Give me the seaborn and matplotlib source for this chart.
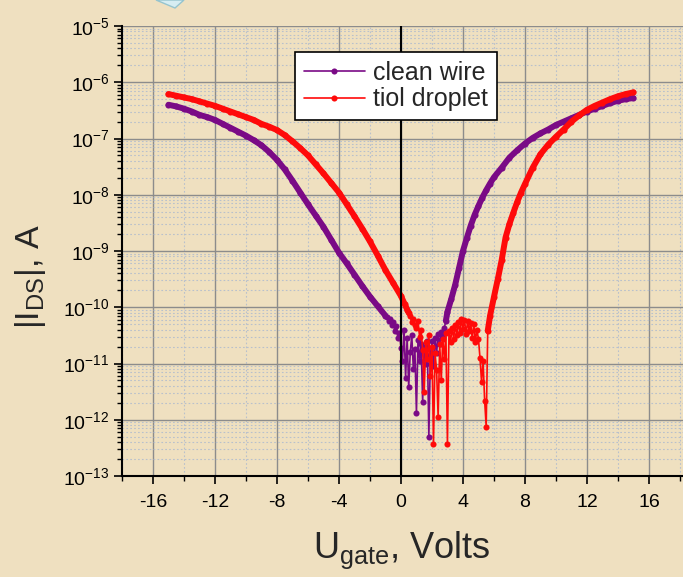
import numpy as np
import pandas as pd
import matplotlib
matplotlib.use("Agg")
import matplotlib.pyplot as plt
import seaborn as sns
from matplotlib.ticker import MultipleLocator, LogLocator, NullFormatter
from matplotlib.lines import Line2D
from matplotlib.patches import Polygon

# ---------------- data (gate voltage in V, log10 of |I_DS| in A) ----------------
clean_v = [-15, -14.5, -14, -13.5, -13, -12.5, -12, -11.5, -11, -10.5, -10, -9.5, -9, -8.5,
           -8, -7.5, -7, -6.5, -6, -5.5, -5, -4.5, -4, -3.5, -3, -2.5, -2, -1.5, -1.0,
           -0.9, -0.8, -0.7, -0.6, -0.5, -0.4, -0.3, -0.2, -0.1, 0.0, 0.1, 0.2, 0.3, 0.4,
           0.5, 0.6, 0.7, 0.8, 0.9, 1.0, 1.1, 1.2, 1.3, 1.4, 1.5, 1.6, 1.7, 1.8, 1.9, 2.0,
           2.1, 2.2, 2.3, 2.4, 2.5, 2.6, 2.7, 2.8, 2.9,
           3.0, 3.25, 3.5, 3.75, 4.0, 4.25, 4.5, 4.75, 5.0, 5.25, 5.5, 5.75, 6.0, 6.5, 7.0,
           7.5, 8.0, 8.5, 9.0, 9.5, 10.0, 10.5, 11.0, 11.5, 12.0, 12.5, 13.0, 13.5, 14.0,
           14.5, 15.0]
clean_log_i = [-6.40, -6.43, -6.47, -6.52, -6.58, -6.62, -6.67, -6.74, -6.81, -6.88, -6.95,
               -7.03, -7.12, -7.24, -7.38, -7.55, -7.75, -7.96, -8.17, -8.37, -8.57, -8.80,
               -9.03, -9.22, -9.42, -9.62, -9.81, -9.98, -10.15,
               -10.18, -10.24, -10.20, -10.32, -10.26, -10.42, -10.33, -10.55, -10.45, -10.72,
               -10.95, -10.40, -11.25, -10.55, -11.42, -10.80, -10.50, -11.10, -10.75, -11.88,
               -10.58, -10.95, -10.65, -11.68, -10.70, -11.00, -10.60, -12.30, -10.85, -10.60,
               -11.05, -10.55, -10.82, -10.48, -10.66, -10.44, -10.52, -10.36, -10.24,
               -10.08, -9.85, -9.60, -9.30, -9.00, -8.77, -8.55, -8.36, -8.20, -8.05, -7.92,
               -7.80, -7.69, -7.52, -7.34, -7.21, -7.09, -6.99, -6.91, -6.84, -6.76, -6.70,
               -6.64, -6.58, -6.52, -6.47, -6.42, -6.37, -6.33, -6.30, -6.28]

tiol_v = [-15, -14.5, -14, -13.5, -13, -12.5, -12, -11.5, -11, -10.5, -10, -9.5, -9, -8.5,
          -8, -7.5, -7, -6.5, -6, -5.5, -5, -4.5, -4, -3.5, -3, -2.5, -2, -1.5, -1, -0.5,
          0.0, 0.25, 0.4,
          0.5, 0.6, 0.7, 0.8, 0.9, 1.0, 1.1, 1.2, 1.3, 1.4, 1.5, 1.6, 1.7, 1.8, 1.9,
          2.0, 2.1, 2.2, 2.3, 2.4, 2.5, 2.6, 2.7, 2.8, 2.9, 3.0, 3.1, 3.2, 3.3, 3.4, 3.5,
          3.6, 3.7, 3.8, 3.9, 4.0, 4.1, 4.2, 4.3, 4.4, 4.5, 4.6, 4.7, 4.8, 4.9, 5.0, 5.1,
          5.2, 5.3, 5.4, 5.5, 5.6,
          5.75, 6.0, 6.25, 6.5, 6.75, 7.0, 7.25, 7.5, 7.75, 8.0, 8.5, 9.0, 9.5, 10.0,
          10.5, 11.0, 11.5, 12.0, 12.5, 13.0, 13.5, 14.0, 14.5, 15.0]
tiol_log_i = [-6.21, -6.24, -6.27, -6.30, -6.34, -6.38, -6.42, -6.47, -6.52, -6.57, -6.62,
              -6.67, -6.74, -6.79, -6.85, -6.94, -7.05, -7.17, -7.30, -7.46, -7.62, -7.79,
              -7.96, -8.17, -8.38, -8.60, -8.83, -9.08, -9.34, -9.57, -9.80, -9.95, -10.04,
              -10.10, -10.16, -10.26, -10.20, -10.32, -10.36, -10.24, -10.52, -10.40, -10.76,
              -11.50, -10.62, -10.92, -10.50, -11.22, -10.70, -12.43, -10.82, -11.12, -11.95,
              -10.66, -11.30, -10.56, -10.92, -10.46, -12.43, -10.42, -10.62, -10.36, -10.56,
              -10.31, -10.50, -10.26, -10.46, -10.21, -10.38, -10.22, -10.48, -10.25, -10.42,
              -10.28, -10.55, -10.30, -10.62, -10.40, -10.56, -10.90, -11.32, -10.96, -11.66,
              -12.12, -10.42,
              -10.15, -9.82, -9.50, -9.16, -8.76, -8.52, -8.32, -8.13, -7.96, -7.81, -7.52,
              -7.28, -7.11, -6.97, -6.84, -6.70, -6.59, -6.49, -6.42, -6.36, -6.30, -6.25,
              -6.21, -6.18]

series_names = ["clean wire", "tiol droplet"]
x_ticks = [-16, -12, -8, -4, 0, 4, 8, 12, 16]

# ---------------- style ----------------
sns.set_style("white")
plt.rcParams["font.family"] = ["Liberation Sans", "DejaVu Sans"]
plt.rcParams["mathtext.fontset"] = "custom"
plt.rcParams["mathtext.rm"] = "Liberation Sans"
plt.rcParams["mathtext.it"] = "Liberation Sans:italic"
plt.rcParams["mathtext.bf"] = "Liberation Sans:bold"
plt.rcParams["axes.unicode_minus"] = False

BG = "#EFE0C0"
PURPLE = "#7A0A86"
RED = "#FF0A0A"

W, H = 683, 577
fig = plt.figure(figsize=(W / 100, H / 100), dpi=100, facecolor=BG)
ax = fig.add_axes([122 / W, 1 - 476 / H, 1 - 122 / W, 450 / H])
ax.set_facecolor("none")

# decorative corner of a slide element
fig.patches.append(Polygon([[156 / W, 1.0], [175 / W, 1 - 8 / H], [184 / W, 1.0]],
                           closed=True, transform=fig.transFigure,
                           facecolor="#D6EDF2", edgecolor="#96C4CE", lw=1.0, zorder=0))


def draw(v, logi, color, lo, hi):
    df = pd.DataFrame({"v": np.asarray(v, float), "i": 10.0 ** np.asarray(logi, float)})
    # thin connecting line with dot markers (every measured point)
    sns.lineplot(data=df, x="v", y="i", ax=ax, color=color, lw=1.2, marker="o",
                 markersize=4.4, markeredgewidth=0, estimator=None, sort=False,
                 legend=False, zorder=3)
    # dense smooth branches appear as a thick band
    smooth = df[(df["v"] <= lo) | (df["v"] >= hi)].copy()
    smooth["seg"] = np.where(smooth["v"] <= lo, 0, 1)
    sns.lineplot(data=smooth, x="v", y="i", units="seg", ax=ax, color=color, lw=4.3,
                 estimator=None, sort=False, legend=False, zorder=3,
                 solid_capstyle="round", solid_joinstyle="round")


draw(clean_v, clean_log_i, PURPLE, -1.0, 2.9)
draw(tiol_v, tiol_log_i, RED, 0.5, 5.6)

ax.axvline(0, color="black", lw=1.5, zorder=5)

ax.set_yscale("log")
ax.set_ylim(1e-13, 1e-5)
ax.set_xlim(-18, 18.2)
ax.set_xticks(x_ticks)
ax.xaxis.set_minor_locator(MultipleLocator(2))
ax.yaxis.set_major_locator(LogLocator(base=10, numticks=20))
ax.yaxis.set_minor_locator(LogLocator(base=10, subs=np.arange(2, 10), numticks=20))
ax.yaxis.set_minor_formatter(NullFormatter())

ax.set_axisbelow(True)
ax.grid(which="major", color="#8C8C8C", lw=1.0, ls="-", zorder=0)
ax.grid(which="minor", color="#B8C0CC", lw=0.8, ls=(0, (1.5, 2.0)), zorder=0)

for s in ["top", "right"]:
    ax.spines[s].set_visible(False)
for s in ["left", "bottom"]:
    ax.spines[s].set_color("black")
    ax.spines[s].set_linewidth(1.5)

ax.tick_params(which="major", direction="out", length=6, width=1.2, labelsize=14,
               colors="black", left=True, bottom=True)
ax.tick_params(axis="x", which="major", pad=7)
ax.tick_params(axis="y", which="major", pad=3)
ax.tick_params(which="minor", direction="out", length=3.5, width=1.0, left=True,
               bottom=True, colors="black")
ax.set_xlabel("")
ax.set_ylabel("")

fig.text(31 / W, 1 - 277 / H, r"|$\mathrm{I}_{\mathrm{DS}}$|, A", rotation=90,
         ha="center", va="center", fontsize=24.5)
fig.text(402 / W, 1 - 558 / H, r"$\mathrm{U}_{\mathrm{gate}}$, Volts",
         ha="center", va="baseline", fontsize=26)

handles = [Line2D([], [], color=PURPLE, lw=1.2, marker="o", ms=4.4, mew=0),
           Line2D([], [], color=RED, lw=1.2, marker="o", ms=4.4, mew=0)]
leg = ax.legend(handles, series_names, loc="upper left",
                bbox_to_anchor=(295 / W, 1 - 52 / H), bbox_transform=fig.transFigure,
                frameon=True, fancybox=False, edgecolor="black", facecolor="white",
                framealpha=1, fontsize=18, handlelength=2.45, handletextpad=0.32,
                borderpad=0.35, labelspacing=0.1, borderaxespad=0)
leg.get_frame().set_linewidth(1.2)
leg.set_zorder(10)

fig.savefig("out.png", dpi=100, facecolor=BG)
